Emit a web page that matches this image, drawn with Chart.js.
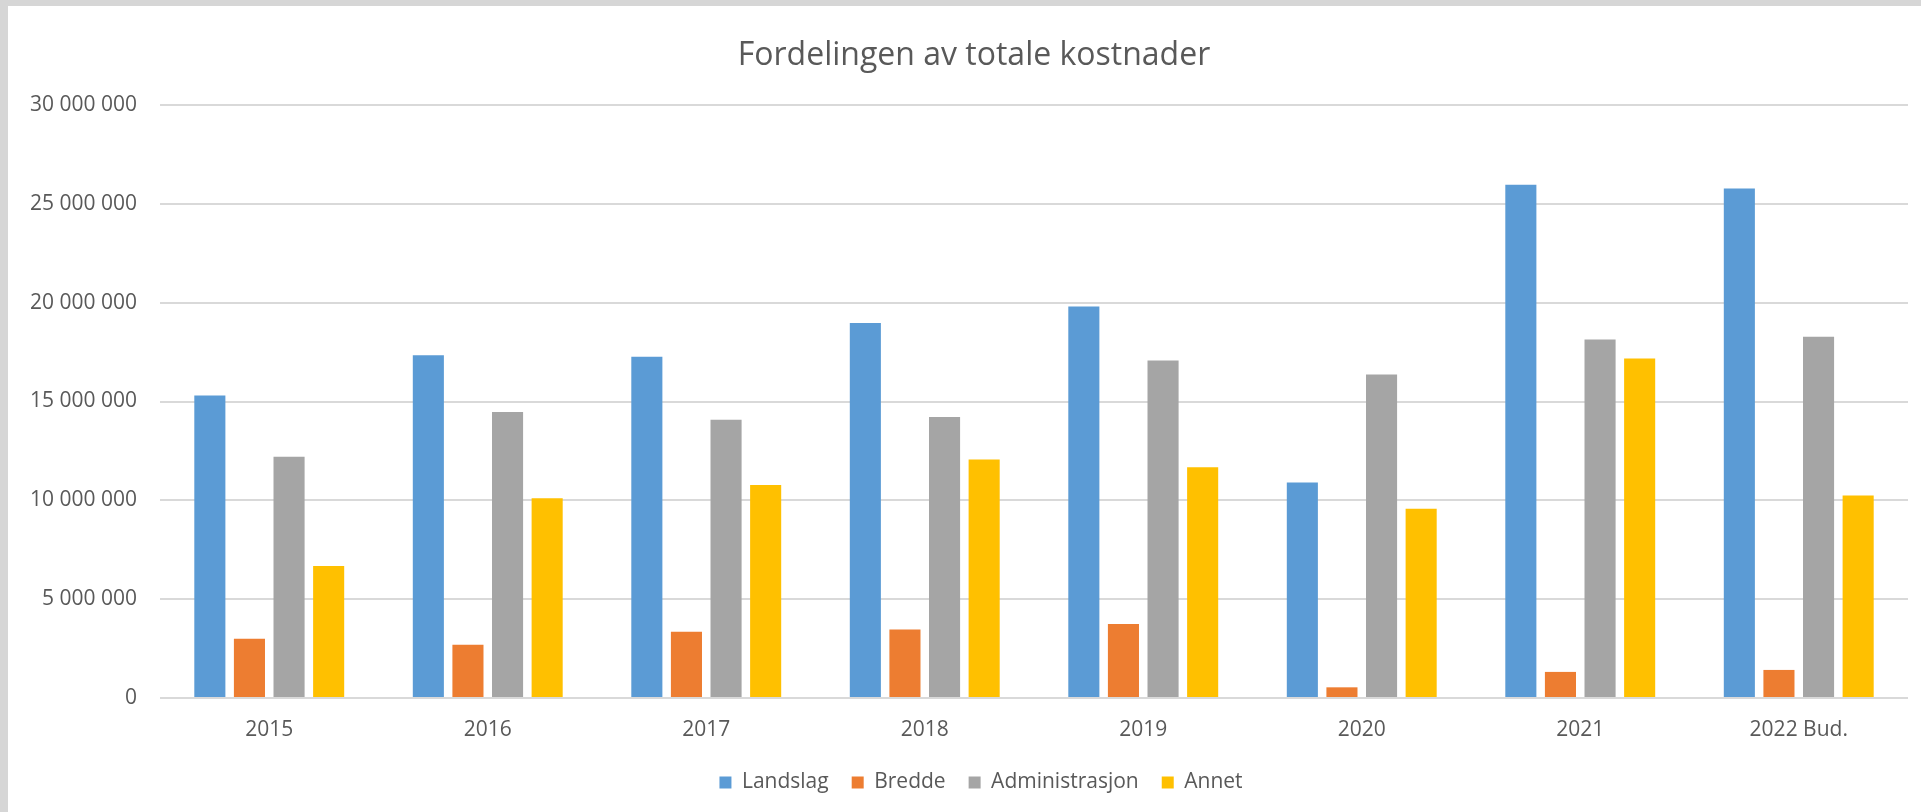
<!DOCTYPE html>
<html>
<head>
<meta charset="utf-8">
<script src="https://cdn.jsdelivr.net/npm/chart.js@4"></script>
<style>
  html, body { margin: 0; padding: 0; }
  body { width: 1921px; height: 812px; background: #d6d6d6; overflow: hidden; position: relative; }
  #wrap { position: absolute; left: 8px; top: 6px; width: 1913px; height: 806px; background: #fff; }
  canvas { display: block; }
</style>
</head>
<body>
<div id="wrap"><canvas id="c" width="1913" height="806"></canvas></div>
<script>
var years = ['2015', '2016', '2017', '2018', '2019', '2020', '2021', '2022 Bud.'];
var landslag = [15300000, 17340000, 17270000, 18970000, 19810000, 10900000, 25960000, 25780000];
var bredde = [3000000, 2700000, 3350000, 3460000, 3740000, 540000, 1320000, 1420000];
var administrasjon = [12200000, 14470000, 14080000, 14220000, 17070000, 16360000, 18140000, 18270000];
var annet = [6680000, 10100000, 10780000, 12070000, 11680000, 9580000, 17180000, 10250000];
var yTicks = [0, 5000000, 10000000, 15000000, 20000000, 25000000, 30000000];

var textColor = '#595959';
var fontFamily = '"Open Sans", "Liberation Sans", sans-serif';

function spaced(v) {
  return String(v).replace(/\B(?=(\d{3})+(?!\d))/g, ' ');
}

function series(label, data, color) {
  return {
    label: label,
    data: data,
    backgroundColor: color,
    borderWidth: 0,
    categoryPercentage: 0.725,
    barPercentage: 0.785
  };
}

// title and legend sit a bit right of the canvas centre in the original
var offsetBoxes = {
  id: 'offsetBoxes',
  afterLayout: function (chart) {
    if (chart.titleBlock) { chart.titleBlock.left = 32; chart.titleBlock.right = chart.chartArea.right; }
    if (chart.legend) { chart.legend.left = 46; chart.legend.right = chart.chartArea.right; }
  }
};

new Chart(document.getElementById('c'), {
  type: 'bar',
  data: {
    labels: years,
    datasets: [
      series('Landslag', landslag, '#5B9BD5'),
      series('Bredde', bredde, '#ED7D31'),
      series('Administrasjon', administrasjon, '#A5A5A5'),
      series('Annet', annet, '#FFC000')
    ]
  },
  plugins: [offsetBoxes],
  options: {
    responsive: false,
    animation: false,
    layout: { padding: { left: 0, right: 13, top: 0, bottom: 9 } },
    plugins: {
      title: {
        display: true,
        text: 'Fordelingen av totale kostnader',
        color: textColor,
        font: { family: fontFamily, size: 32, weight: 'normal', lineHeight: 1.2 },
        padding: { top: 30.5, bottom: 30.1 }
      },
      legend: {
        position: 'bottom',
        labels: {
          color: textColor,
          font: { family: fontFamily, size: 21 },
          boxWidth: 12,
          boxHeight: 12,
          padding: 23
        }
      },
      tooltip: { enabled: false }
    },
    scales: {
      x: {
        grid: { display: false },
        border: { display: false },
        ticks: { color: textColor, font: { family: fontFamily, size: 21 }, padding: 11, maxRotation: 0 },
        afterFit: function (axis) { axis.height = 51; }
      },
      y: {
        min: 0,
        max: 30000000,
        afterBuildTicks: function (axis) { axis.ticks = yTicks.map(function (v) { return { value: v }; }); },
        grid: { color: '#d9d9d9', lineWidth: 2, drawTicks: false },
        border: { display: false },
        ticks: {
          color: textColor,
          font: { family: fontFamily, size: 21 },
          padding: 23,
          callback: function (v) { return spaced(v); }
        },
        afterFit: function (axis) { axis.width = 152; }
      }
    }
  }
});
</script>
</body>
</html>
